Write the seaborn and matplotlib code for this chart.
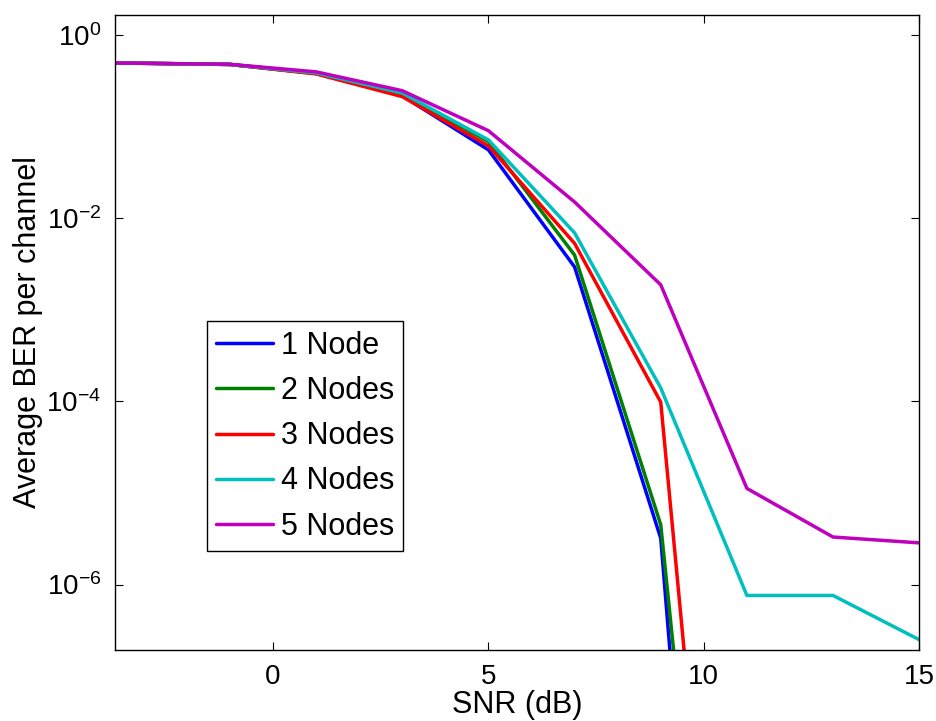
import numpy as np
import pandas as pd
import matplotlib
matplotlib.use("Agg")
import matplotlib.pyplot as plt
import seaborn as sns

sns.set_style("ticks")
plt.rcParams['font.family'] = ['Liberation Sans', 'DejaVu Sans']
plt.rcParams['mathtext.default'] = 'regular'
plt.rcParams['xtick.direction'] = 'in'
plt.rcParams['ytick.direction'] = 'in'
plt.rcParams['text.color'] = 'black'
plt.rcParams['axes.labelcolor'] = 'black'
plt.rcParams['xtick.color'] = 'black'
plt.rcParams['ytick.color'] = 'black'
plt.rcParams['axes.edgecolor'] = 'black'

snr = [-5, -3, -1, 1, 3, 5, 7, 9, 11, 13, 15]
labels = ['1 Node', '2 Nodes', '3 Nodes', '4 Nodes', '5 Nodes']
ber_1 = [0.50, 0.49, 0.476, 0.38, 0.216, 0.0556, 0.00293, 3.2e-6, 1e-17, 1e-17, 1e-17]
ber_2 = [0.50, 0.49, 0.476, 0.38, 0.220, 0.0686, 0.00395, 4.5e-6, 3e-15, 3e-15, 3e-15]
ber_3 = [0.50, 0.49, 0.476, 0.375, 0.212, 0.0615, 0.0053, 9.8e-5, 1e-14, 1e-14, 1e-14]
ber_4 = [0.50, 0.49, 0.476, 0.385, 0.232, 0.0714, 0.0069, 1.4e-4, 7.6e-7, 7.6e-7, 2.5e-7]
ber_5 = [0.50, 0.49, 0.478, 0.395, 0.246, 0.090, 0.015, 1.87e-3, 1.12e-5, 3.3e-6, 2.85e-6]
colors = ['#0000ff', '#008000', '#ff0000', '#00bfbf', '#bf00bf']

df = pd.DataFrame({
    'snr': snr * 5,
    'ber': ber_1 + ber_2 + ber_3 + ber_4 + ber_5,
    'nodes': [l for l in labels for _ in snr],
})

fig = plt.figure(figsize=(9.37, 7.21), dpi=100)
ax = fig.add_axes([0.1227, 0.0985, 0.8583, 0.8807])
sns.lineplot(data=df, x='snr', y='ber', hue='nodes', palette=colors,
             linewidth=2.5, ax=ax, sort=True, estimator=None)
ax.set_yscale('log')
ax.set_xlim(-3.67, 15)
ax.set_ylim(1.93e-7, 1.65)
ax.set_xticks([0, 5, 10, 15])
ax.set_yticks([1, 1e-2, 1e-4, 1e-6])
ax.set_yticklabels(['$10^{0}$', '$10^{-2}$', '$10^{-4}$', '$10^{-6}$'])
ax.yaxis.set_minor_locator(matplotlib.ticker.NullLocator())
ax.tick_params(which='both', top=True, right=True, length=6, width=0.8,
               labelsize=20, pad=10)
for s in ax.spines.values():
    s.set_linewidth(1.0)
ax.set_xlabel('SNR (dB)', fontsize=22, labelpad=0)
ax.set_ylabel('Average BER per channel', fontsize=22, labelpad=2)

leg = ax.legend(loc='lower left', bbox_to_anchor=(0.1144, 0.156),
                borderaxespad=0, fontsize=22, handlelength=1.87,
                handletextpad=0.25, labelspacing=0.5, borderpad=0.3,
                fancybox=False, edgecolor='black', framealpha=1)
leg.get_frame().set_linewidth(1.0)

plt.savefig('out.png', dpi=100)
